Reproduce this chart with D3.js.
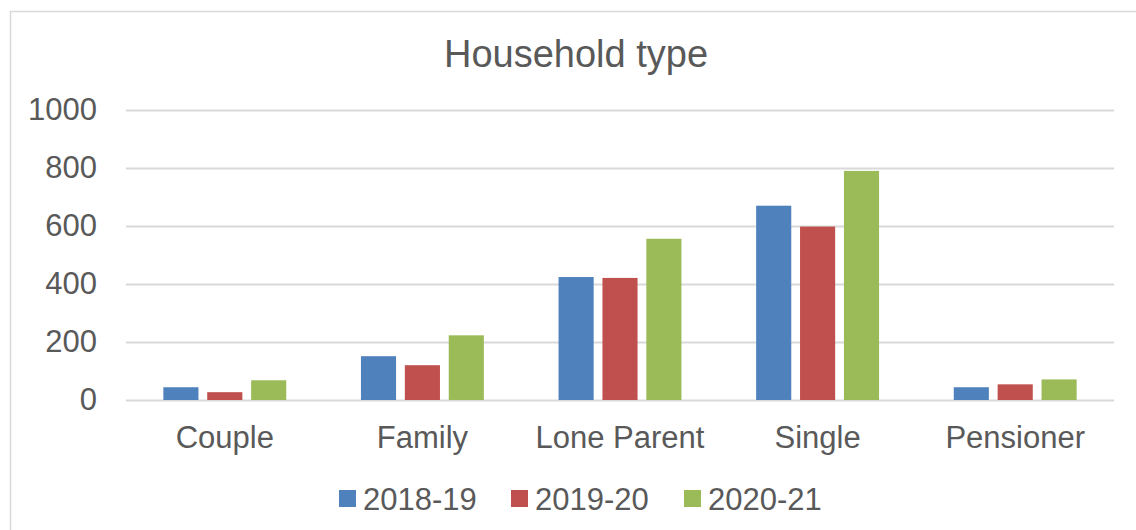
<!DOCTYPE html>
<html>
<head>
<meta charset="utf-8">
<script src="https://d3js.org/d3.v7.min.js"></script>
<style>
  body { margin: 0; background: #fff; }
  text { font-family: "Liberation Sans", Arial, sans-serif; fill: #595959; }
</style>
</head>
<body>
<script>
// chart data
var categories = ["Couple", "Family", "Lone Parent", "Single", "Pensioner"];
var series = ["2018-19", "2019-20", "2020-21"];
var values2018 = [44, 151, 424, 670, 44];
var values2019 = [27, 120, 421, 598, 54];
var values2020 = [68, 223, 556, 790, 71];
var yTicks = [0, 200, 400, 600, 800, 1000];
var colors = ["#4F81BD", "#C0504D", "#9BBB59"];

var width = 1136, height = 530;
var allValues = [values2018, values2019, values2020];

var svg = d3.select("body").append("svg")
    .attr("width", width)
    .attr("height", height);

svg.append("rect").attr("width", width).attr("height", height).attr("fill", "#fff");

// chart border (left + top visible)
svg.append("path")
    .attr("d", "M10.5," + height + "V11.5H" + width)
    .attr("fill", "none")
    .attr("stroke", "#D9D9D9")
    .attr("stroke-width", 1.5);

var plot = {left: 126, right: 1114, top: 110, bottom: 400};

var x0 = d3.scaleBand().domain(categories)
    .range([plot.left, plot.right])
    .paddingInner(0.378).paddingOuter(0.189);
var x1 = d3.scaleBand().domain(series)
    .range([0, x0.bandwidth()])
    .paddingInner(0.2);
var y = d3.scaleLinear().domain([0, 1000]).range([plot.bottom, plot.top]);

svg.append("text")
    .attr("x", 576).attr("y", 67)
    .attr("text-anchor", "middle")
    .style("font-size", "38px")
    .text("Household type");

// gridlines + y labels
var yAxis = svg.append("g").attr("transform", "translate(" + plot.left + ",0)")
    .call(d3.axisLeft(y).tickValues(yTicks).tickFormat(d3.format("d"))
        .tickSize(-(plot.right - plot.left)).tickPadding(29));
yAxis.select(".domain").remove();
yAxis.selectAll("line").attr("stroke", "#D9D9D9").attr("stroke-width", 2);
yAxis.selectAll("text").style("font-size", "31px").attr("fill", "#595959").attr("font-family", null);

// bars
var groups = svg.append("g").selectAll("g")
    .data(categories)
    .join("g")
    .attr("transform", function(d) { return "translate(" + x0(d) + ",0)"; });

groups.selectAll("rect")
    .data(function(d, i) {
        return series.map(function(s, j) { return {s: s, v: allValues[j][i], c: colors[j]}; });
    })
    .join("rect")
    .attr("x", function(d) { return x1(d.s); })
    .attr("y", function(d) { return y(d.v); })
    .attr("width", x1.bandwidth())
    .attr("height", function(d) { return y(0) - y(d.v); })
    .attr("fill", function(d) { return d.c; });

// x labels
var xAxis = svg.append("g").attr("transform", "translate(0," + plot.bottom + ")")
    .call(d3.axisBottom(x0).tickSize(0).tickPadding(26));
xAxis.select(".domain").remove();
xAxis.selectAll("text").style("font-size", "31px").attr("fill", "#595959").attr("font-family", null);

// legend
var legendX = [339, 511, 684];
var legend = svg.append("g").selectAll("g")
    .data(series)
    .join("g")
    .attr("transform", function(d, i) { return "translate(" + legendX[i] + ",490)"; });
legend.append("rect").attr("width", 17).attr("height", 17)
    .attr("fill", function(d, i) { return colors[i]; });
legend.append("text").attr("x", 24).attr("y", 20)
    .style("font-size", "31px")
    .text(function(d) { return d; });
</script>
</body>
</html>
